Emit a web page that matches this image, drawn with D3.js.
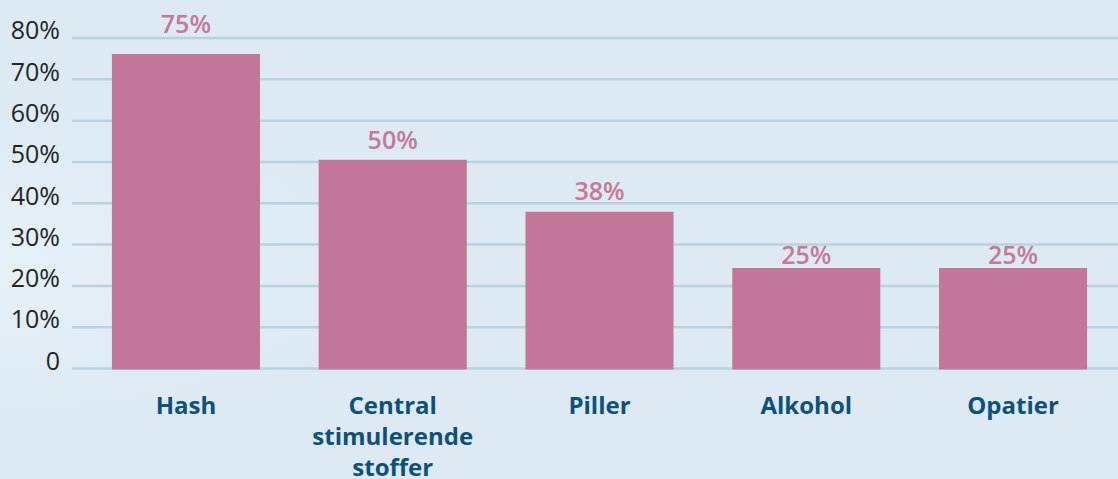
<!DOCTYPE html>
<html>
<head>
<meta charset="utf-8">
<script src="https://cdn.jsdelivr.net/npm/d3@7"></script>
<style>
  html, body { margin: 0; padding: 0; background: #ddeaf4; }
  svg { display: block; font-family: 'Open Sans', 'Noto Sans', sans-serif; }
</style>
</head>
<body>
<div id="chart"></div>
<script>
// data
const categories = ['Hash', 'Central stimulerende stoffer', 'Piller', 'Alkohol', 'Opatier'];
const categoryLines = [['Hash'], ['Central', 'stimulerende', 'stoffer'], ['Piller'], ['Alkohol'], ['Opatier']];
const values = [76, 50.4, 37.8, 24.2, 24.2];
const valueLabels = ['75%', '50%', '38%', '25%', '25%'];
const yTicks = [0, 10, 20, 30, 40, 50, 60, 70, 80];

// label lift above bar top (px), as in the reference
const labelLift = [21, 11, 12, 4, 4];

const width = 1118;
const height = 479;
const margin = { top: 37.5, right: 0, bottom: 111, left: 72 };

const svg = d3.select('#chart').append('svg')
  .attr('width', width)
  .attr('height', height);

// background with faint lighter wash on the left
const defs = svg.append('defs');
const grad = defs.append('radialGradient')
  .attr('id', 'bg')
  .attr('cx', '0%').attr('cy', '55%').attr('r', '35%');
grad.append('stop').attr('offset', '0%').attr('stop-color', '#e6f0f7');
grad.append('stop').attr('offset', '100%').attr('stop-color', '#ddeaf4');
svg.append('rect')
  .attr('width', width)
  .attr('height', height)
  .attr('fill', 'url(#bg)');

const x = d3.scaleBand()
  .domain(categories)
  .range([margin.left, 1127])
  .paddingInner(0.284)
  .paddingOuter(0.193);

const y = d3.scaleLinear()
  .domain([0, 80])
  .range([368, margin.top]);

// gridlines
svg.append('g')
  .attr('class', 'y grid')
  .attr('transform', 'translate(' + margin.left + ',0)')
  .call(
    d3.axisRight(y)
      .tickValues(yTicks)
      .tickSize(width - margin.left)
      .tickFormat('')
  )
  .call(g => g.select('.domain').remove())
  .call(g => g.selectAll('line').attr('stroke', '#bad2e0').attr('stroke-width', 2.5));

// y axis labels
svg.append('g')
  .attr('class', 'y axis')
  .attr('transform', 'translate(' + (margin.left - 12) + ',0)')
  .call(
    d3.axisLeft(y)
      .tickValues(yTicks)
      .tickSize(0)
      .tickPadding(0)
      .tickFormat(d => (d === 0 ? '0' : d + '%'))
  )
  .call(g => g.select('.domain').remove())
  .call(g => g.selectAll('text')
    .attr('font-size', 25)
    .attr('font-family', "'Open Sans', sans-serif")
    .attr('fill', '#252525')
    .attr('dy', '0.05em'));

// bars
svg.append('g')
  .selectAll('rect')
  .data(values)
  .join('rect')
  .attr('x', (d, i) => x(categories[i]))
  .attr('y', d => y(d))
  .attr('width', x.bandwidth())
  .attr('height', d => y(0) + 1.5 - y(d))
  .attr('fill', '#c27798');

// value labels
svg.append('g')
  .selectAll('text')
  .data(values)
  .join('text')
  .attr('x', (d, i) => x(categories[i]) + x.bandwidth() / 2)
  .attr('y', (d, i) => y(d) - labelLift[i])
  .attr('text-anchor', 'middle')
  .attr('font-size', 25)
  .attr('font-weight', 600)
  .attr('fill', '#c5799b')
  .text((d, i) => valueLabels[i]);

// category labels
const cat = svg.append('g')
  .selectAll('text')
  .data(categoryLines)
  .join('text')
  .attr('x', (d, i) => x(categories[i]) + x.bandwidth() / 2)
  .attr('y', 414)
  .attr('text-anchor', 'middle')
  .attr('font-size', 24)
  .attr('font-weight', 'bold')
  .attr('fill', '#0d507c');

cat.each(function(lines, i) {
  const t = d3.select(this);
  lines.forEach((line, j) => {
    t.append('tspan')
      .attr('x', x(categories[i]) + x.bandwidth() / 2)
      .attr('dy', j === 0 ? 0 : 31)
      .text(line);
  });
});
</script>
</body>
</html>
